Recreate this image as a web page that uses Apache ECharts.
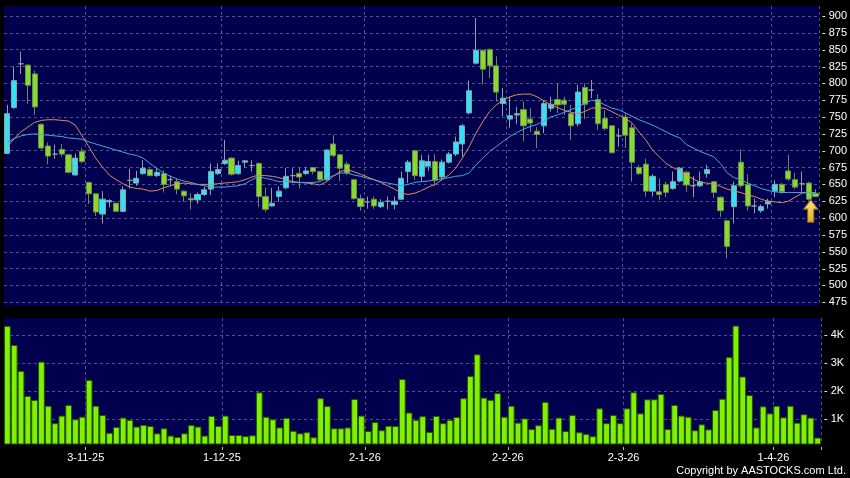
<!DOCTYPE html>
<html><head><meta charset="utf-8">
<script src="https://cdn.jsdelivr.net/npm/echarts@6/dist/echarts.min.js"></script>
<style>html,body{margin:0;padding:0;background:#000;}#c{width:850px;height:478px;}</style>
</head><body><div id="c"></div>
<script>
const dates = [
'15-10-25','16-10-25','17-10-25','20-10-25','21-10-25','22-10-25','23-10-25','24-10-25','27-10-25','28-10-25','30-10-25','31-10-25',
'3-11-25','4-11-25','5-11-25','6-11-25','7-11-25','10-11-25','11-11-25','12-11-25','13-11-25','14-11-25','17-11-25','18-11-25','19-11-25','20-11-25','21-11-25','24-11-25','25-11-25','26-11-25','27-11-25','28-11-25',
'1-12-25','2-12-25','3-12-25','4-12-25','5-12-25','8-12-25','9-12-25','10-12-25','11-12-25','12-12-25','15-12-25','16-12-25','17-12-25','18-12-25','19-12-25','22-12-25','23-12-25','24-12-25','29-12-25','30-12-25','31-12-25',
'2-1-26','5-1-26','6-1-26','7-1-26','8-1-26','9-1-26','12-1-26','13-1-26','14-1-26','15-1-26','16-1-26','19-1-26','20-1-26','21-1-26','22-1-26','23-1-26','26-1-26','27-1-26','28-1-26','29-1-26','30-1-26',
'2-2-26','3-2-26','4-2-26','5-2-26','6-2-26','9-2-26','10-2-26','11-2-26','12-2-26','13-2-26','16-2-26','20-2-26','23-2-26','24-2-26','25-2-26','26-2-26','27-2-26',
'2-3-26','3-3-26','4-3-26','5-3-26','6-3-26','9-3-26','10-3-26','11-3-26','12-3-26','13-3-26','16-3-26','17-3-26','18-3-26','19-3-26','20-3-26','23-3-26','24-3-26','25-3-26','26-3-26','27-3-26','30-3-26','31-3-26',
'1-4-26','2-4-26','8-4-26','9-4-26','10-4-26','13-4-26','14-4-26'];

const xTickLabels = ['3-11-25','1-12-25','2-1-26','2-2-26','2-3-26','1-4-26'];
const priceTicks = [475,500,525,550,575,600,625,650,675,700,725,750,775,800,825,850,875,900];
const volumeTicks = [1,2,3,4];

const open = [696,764,829,827,814,739,707,695,702,694,664,699,653,636,606,624,622,610,656,652,
666,672,663,666,657,654,640,629,627,635,643,666,681,689,666,683,678,681,632,618,
632,645,663,666,666,675,669,657,710,694,680,657,629,624,628,617,625,620,628,669,
700,662,677,684,661,683,695,710,756,830,849,850,826,770,747,753,761,747,729,737,
763,776,775,755,740,794,790,776,748,737,722,750,734,675,680,640,639,650,644,655,
668,648,648,666,654,631,596,617,683,650,618,611,621,640,650,670,657,651,652,637];
const close = [755,804,829,797,765,704,692,695,695,668,689,684,636,609,628,626,610,642,656,659,
674,663,668,650,657,643,633,627,635,642,669,672,686,665,678,685,678,632,613,622,
640,662,663,661,670,669,657,701,693,674,667,629,617,624,618,623,625,625,659,683,
663,685,684,656,683,695,713,737,789,849,821,826,787,778,752,755,737,741,724,770,
769,768,769,737,787,769,790,740,733,697,722,723,683,666,640,662,635,638,654,674,
649,648,654,672,638,611,558,648,648,618,618,617,625,650,639,658,646,651,628,632];
const low = [695,762,814,770,753,702,680,688,691,666,663,681,621,603,592,616,609,609,644,648,
664,662,661,638,647,635,624,613,621,633,634,664,679,663,664,675,669,617,609,617,
624,643,652,644,664,665,655,655,690,655,664,627,611,614,614,615,613,613,627,652,
657,654,670,648,656,681,692,691,754,828,798,808,773,751,734,740,714,728,704,726,
758,756,753,716,736,747,778,731,730,696,706,704,654,664,632,632,627,631,642,653,
639,631,646,660,630,602,540,592,645,611,607,608,614,631,636,655,643,639,626,631];
const high = [768,825,847,829,819,741,712,709,710,695,696,704,654,637,640,628,623,647,673,670,
686,674,674,671,663,659,641,637,638,647,681,681,716,690,685,686,686,683,645,645,
647,674,674,675,676,676,670,702,723,695,684,658,635,632,632,628,632,632,669,686,
701,694,694,695,687,698,721,740,804,897,850,852,840,793,780,765,773,763,735,775,
780,800,780,768,798,800,805,784,760,738,733,756,740,679,688,665,659,654,669,676,
670,662,669,679,655,632,597,654,702,665,629,620,629,656,652,694,667,669,654,643];

const ma10 = [706,718,728,735,742,745,746,746,745,744,738,722,706,689,676,664,657,651,646,644,
643,640,641,645,648,651,652,651,650,650,650,651,652,653,654,657,661,664,663,662,
660,657,654,653,652,651,649,654,662,669,672,669,665,661,657,653,648,643,637,635,
637,641,646,650,657,664,674,689,706,726,743,758,768,775,780,783,784,784,780,774,
768,764,760,757,755,758,763,764,763,758,753,748,741,728,716,701,691,681,675,671,
664,658,653,652,650,647,643,640,638,634,632,628,625,624,623,625,631,637,638,638];
const ma20 = [713,718,722,724,725,724,723,722,721,719,718,717,713,710,707,704,701,698,695,693,
689,681,674,667,662,658,655,653,650,648,646,646,646,647,648,651,657,662,659,657,
654,654,653,653,653,653,654,659,663,667,667,664,662,659,657,654,652,650,648,650,
653,654,655,657,658,660,662,663,667,679,689,699,706,714,721,727,732,736,739,744,
750,753,757,761,765,770,775,773,768,763,761,756,751,746,742,738,733,728,723,719,
709,704,699,695,691,681,667,660,657,652,648,644,641,639,638,638,638,638,638,638];

const volumeK = [4.32,3.64,2.72,1.83,1.69,3.05,1.48,0.86,1.13,1.51,1.00,1.09,2.40,1.48,1.15,0.52,0.73,1.06,0.98,0.74,
0.80,0.76,0.50,0.68,0.42,0.37,0.50,0.80,0.74,0.42,1.12,0.76,1.13,0.44,0.44,0.40,0.43,1.96,1.09,1.00,
0.71,1.05,0.59,0.50,0.54,0.36,1.75,1.47,0.68,0.68,0.71,1.72,1.13,0.58,0.90,0.61,0.77,0.76,2.43,1.24,
0.98,1.11,0.55,1.12,0.86,0.98,1.08,1.75,2.54,3.31,1.77,1.69,1.93,1.09,1.48,0.88,1.03,0.65,0.79,1.62,
0.66,1.06,0.58,1.15,0.54,0.48,0.40,1.39,0.86,1.15,0.86,1.39,1.96,1.21,1.71,1.71,1.90,0.65,1.51,1.13,
1.09,0.61,0.82,0.64,1.33,1.73,3.21,4.33,2.52,1.86,0.71,1.46,1.21,1.48,1.07,1.48,0.88,1.18,1.06,0.35];

const arrowDate = '13-4-26';
const arrowValue = 610.5;

const GRID_BG = '#00004e';
const GRID_LINE = '#50508a';
const dojiColor = '#9a9a9a';

const candleData = dates.map((d, i) => {
  const item = { value: [open[i], close[i], low[i], high[i]] };
  if (open[i] === close[i]) {
    item.itemStyle = { color: dojiColor, color0: dojiColor, borderColor: dojiColor, borderColor0: dojiColor };
  }
  return item;
});

const isTick = (idx, val) => xTickLabels.indexOf(val) >= 0;

const chart = echarts.init(document.getElementById('c'), null, { renderer: 'canvas' });
chart.setOption({
  animation: false,
  backgroundColor: '#000000',
  grid: [
    { left: 4, right: 29, top: 6, height: 300, show: true, backgroundColor: GRID_BG, borderWidth: 0 },
    { left: 4, right: 29, top: 318, height: 126, show: true, backgroundColor: GRID_BG, borderWidth: 0 }
  ],
  xAxis: [
    { type: 'category', gridIndex: 0, data: dates, boundaryGap: true,
      axisLine: { show: false }, axisTick: { show: false }, axisLabel: { show: false },
      splitLine: { show: true, interval: isTick, lineStyle: { color: GRID_LINE, type: [3, 3], width: 1 } } },
    { type: 'category', gridIndex: 1, data: dates, boundaryGap: true, offset: 3,
      axisLine: { show: false },
      axisTick: { show: true, interval: isTick, length: 3, lineStyle: { color: '#bbbbbb' } },
      axisLabel: { show: true, interval: isTick, color: '#ffffff', fontSize: 11, fontFamily: 'Liberation Sans, Arial, sans-serif', margin: 5, padding: [0, 6.8, 0, 0] },
      splitLine: { show: true, interval: isTick, lineStyle: { color: GRID_LINE, type: [3, 3], width: 1 } } }
  ],
  yAxis: [
    { type: 'value', gridIndex: 0, position: 'right', min: 469.5, max: 914.8, scale: true,
      axisLine: { show: false },
      axisTick: { show: false, customValues: priceTicks },
      axisLabel: { show: true, customValues: priceTicks, color: '#ffffff', fontSize: 11, fontFamily: 'Liberation Sans, Arial, sans-serif', margin: 3,
        formatter: v => '- ' + v },
      splitLine: { show: true, lineStyle: { color: GRID_LINE, type: [3, 3], width: 1 } } },
    { type: 'value', gridIndex: 1, position: 'right', min: 0.12, max: 4.6,
      axisLine: { show: false },
      axisTick: { show: false, customValues: volumeTicks },
      axisLabel: { show: true, customValues: volumeTicks, color: '#ffffff', fontSize: 11, fontFamily: 'Liberation Sans, Arial, sans-serif', margin: 3,
        formatter: v => '- ' + v + 'K' },
      splitLine: { show: true, lineStyle: { color: GRID_LINE, type: [3, 3], width: 1 } } }
  ],
  series: [
    { type: 'candlestick', xAxisIndex: 0, yAxisIndex: 0, data: candleData, barWidth: 5.6, z: 2,
      itemStyle: { color: '#2fe3f4', color0: '#86dc2c', borderColor: '#8aa2aa', borderColor0: '#6f8a55', borderWidth: 1 },
      markPoint: {
        silent: true,
        symbol: 'path://M7,0 L14,9 L10,9 L10,22 L4,22 L4,9 L0,9 Z',
        symbolSize: [14, 22], symbolKeepAspect: false, symbolOffset: [2, 0],
        label: { show: false },
        itemStyle: { color: new echarts.graphic.LinearGradient(0, 0, 0, 1, [{ offset: 0, color: '#ffe680' }, { offset: 1, color: '#e8a820' }]),
          borderColor: '#a87a10', borderWidth: 1 },
        data: [{ coord: [arrowDate, arrowValue] }]
      } },
    { type: 'line', xAxisIndex: 0, yAxisIndex: 0, data: ma10, showSymbol: false, z: 3,
      lineStyle: { color: '#e08a62', width: 1 } },
    { type: 'line', xAxisIndex: 0, yAxisIndex: 0, data: ma20, showSymbol: false, z: 3,
      lineStyle: { color: '#49a6e0', width: 1 } },
    { type: 'bar', xAxisIndex: 1, yAxisIndex: 1, data: volumeK, barCategoryGap: '0%', clip: true,
      itemStyle: { color: '#7ef200', borderColor: '#2a5200', borderWidth: 1 } }
  ],
  graphic: [
    { type: 'text', right: 4, top: 465, silent: true,
      style: { text: 'Copyright by AASTOCKS.com Ltd.', fill: '#ffffff', font: '11px Liberation Sans, Arial, sans-serif' } }
  ]
});
</script>
</body></html>
